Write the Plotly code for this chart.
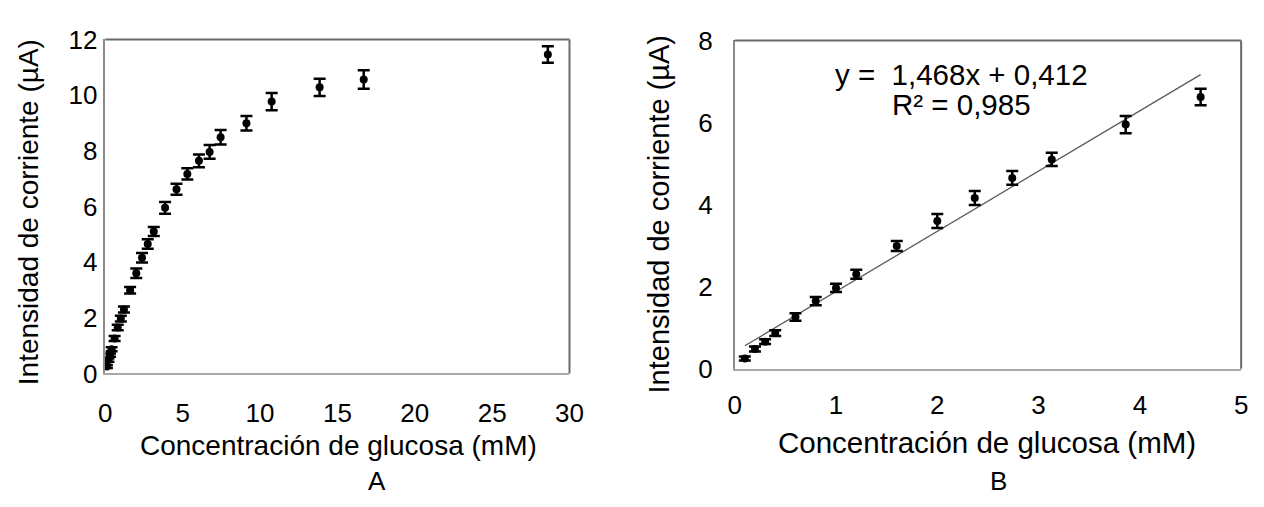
import plotly.graph_objects as go

# Glucose calibration data (concentration in mM, current in µA, ± error)
conc_lineal = [0.1, 0.2, 0.3, 0.4, 0.6, 0.8, 1.0, 1.2, 1.6, 2.0, 2.37, 2.74, 3.13, 3.86, 4.6]
corr_lineal = [0.25, 0.48, 0.66, 0.87, 1.26, 1.65, 1.97, 2.3, 2.99, 3.6, 4.16, 4.65, 5.1, 5.95, 6.62]
err_lineal = [0.05, 0.06, 0.06, 0.07, 0.09, 0.1, 0.1, 0.11, 0.12, 0.17, 0.17, 0.17, 0.16, 0.21, 0.2]

conc_alta = [5.3, 6.05, 6.74, 7.45, 9.12, 10.75, 13.85, 16.7, 28.6]
corr_alta = [7.17, 7.64, 7.96, 8.49, 8.99, 9.77, 10.28, 10.56, 11.46]
err_alta = [0.2, 0.23, 0.25, 0.26, 0.26, 0.31, 0.31, 0.33, 0.3]

# Linear fit of the low-concentration range
pendiente = 1.468
intercepto = 0.412
r2 = 0.985

ticks_x_A = [0, 5, 10, 15, 20, 25, 30]
ticks_y_A = [0, 2, 4, 6, 8, 10, 12]
ticks_x_B = [0, 1, 2, 3, 4, 5]
ticks_y_B = [0, 2, 4, 6, 8]

W, H = 1264, 507
FONT = "Liberation Sans, Arial, sans-serif"


def fx(p):
    return p / W


def fy(p):
    return 1 - p / H


conc_total = conc_lineal + conc_alta
corr_total = corr_lineal + corr_alta
err_total = err_lineal + err_alta

fig = go.Figure()

err_style = dict(type="data", color="black", thickness=2.5, width=6)

# Panel A: full concentration range
fig.add_trace(go.Scatter(
    x=conc_total, y=corr_total, mode="markers",
    marker=dict(color="black", size=8),
    error_y=dict(array=err_total, **err_style),
    xaxis="x", yaxis="y", cliponaxis=False, showlegend=False,
))

# Panel B: linear range with its fitted trendline
x_fit = [min(conc_lineal), max(conc_lineal)]
y_fit = [pendiente * v + intercepto for v in x_fit]
fig.add_trace(go.Scatter(
    x=x_fit, y=y_fit, mode="lines",
    line=dict(color="#5a5a5a", width=1.3),
    xaxis="x2", yaxis="y2", showlegend=False,
))

fig.add_trace(go.Scatter(
    x=conc_lineal, y=corr_lineal, mode="markers",
    marker=dict(color="black", size=8),
    error_y=dict(array=err_lineal, **err_style),
    xaxis="x2", yaxis="y2", cliponaxis=False, showlegend=False,
))

tick_font = dict(family=FONT, size=26, color="black")

common = dict(showgrid=False, zeroline=False, showline=True, ticks="")

fig.update_layout(
    width=W, height=H,
    margin=dict(l=0, r=0, t=0, b=0),
    paper_bgcolor="white", plot_bgcolor="white",
    xaxis=dict(domain=[fx(100), fx(572)], range=[0, 30], tickvals=ticks_x_A,
               linecolor="#a8a8a8", linewidth=2, tickfont=tick_font,
               ticklabelstandoff=15, anchor="y", **common),
    yaxis=dict(domain=[fy(381), fy(26)], range=[0, 12], tickvals=ticks_y_A,
               linecolor="#8a8a8a", linewidth=1.5, tickfont=tick_font,
               ticklabelstandoff=1, anchor="x", **common),
    xaxis2=dict(domain=[fx(740), fx(1255)], range=[0, 5], tickvals=ticks_x_B,
                linecolor="#a8a8a8", linewidth=2, tickfont=tick_font,
                ticklabelstandoff=12, anchor="y2", **common),
    yaxis2=dict(domain=[fy(376), fy(27)], range=[0, 8], tickvals=ticks_y_B,
                linecolor="#8a8a8a", linewidth=1.5, tickfont=tick_font,
                ticklabelstandoff=15, anchor="x2", **common),
)

# Top and right frame edges of each plot area
for xr, yr in (("x domain", "y domain"), ("x2 domain", "y2 domain")):
    fig.add_shape(type="line", xref=xr, yref=yr, x0=0, x1=1, y0=1, y1=1,
                  line=dict(color="#6a6a6a", width=2))
    fig.add_shape(type="line", xref=xr, yref=yr, x0=1, x1=1, y0=0, y1=1,
                  line=dict(color="#6a6a6a", width=2))

annots = [
    dict(text="Concentración de glucosa (mM)", x=fx(337), y=fy(458), size=28, angle=0),
    dict(text="Intensidad de corriente (µA)", x=fx(22), y=fy(210), size=28, angle=-90),
    dict(text="Concentración de glucosa (mM)", x=fx(997), y=fy(454), size=29.5, angle=0),
    dict(text="Intensidad de corriente (µA)", x=fx(663), y=fy(212), size=29, angle=-90),
    dict(text="A", x=fx(376), y=fy(495), size=26, angle=0),
    dict(text="B", x=fx(1008), y=fy(495), size=26, angle=0),
    dict(text=f"y =  {pendiente:.3f}x + {intercepto:.3f}".replace(".", ","),
         x=fx(971), y=fy(63), size=29.5, angle=0),
    dict(text=f"R² = {r2:.3f}".replace(".", ","), x=fx(971), y=fy(95), size=29.5, angle=0),
]
for a in annots:
    fig.add_annotation(text=a["text"], x=a["x"], y=a["y"], xref="paper", yref="paper",
                       xanchor="center", yanchor="middle", showarrow=False,
                       textangle=a["angle"],
                       font=dict(family=FONT, size=a["size"], color="black"))

fig.write_html("out.html")
